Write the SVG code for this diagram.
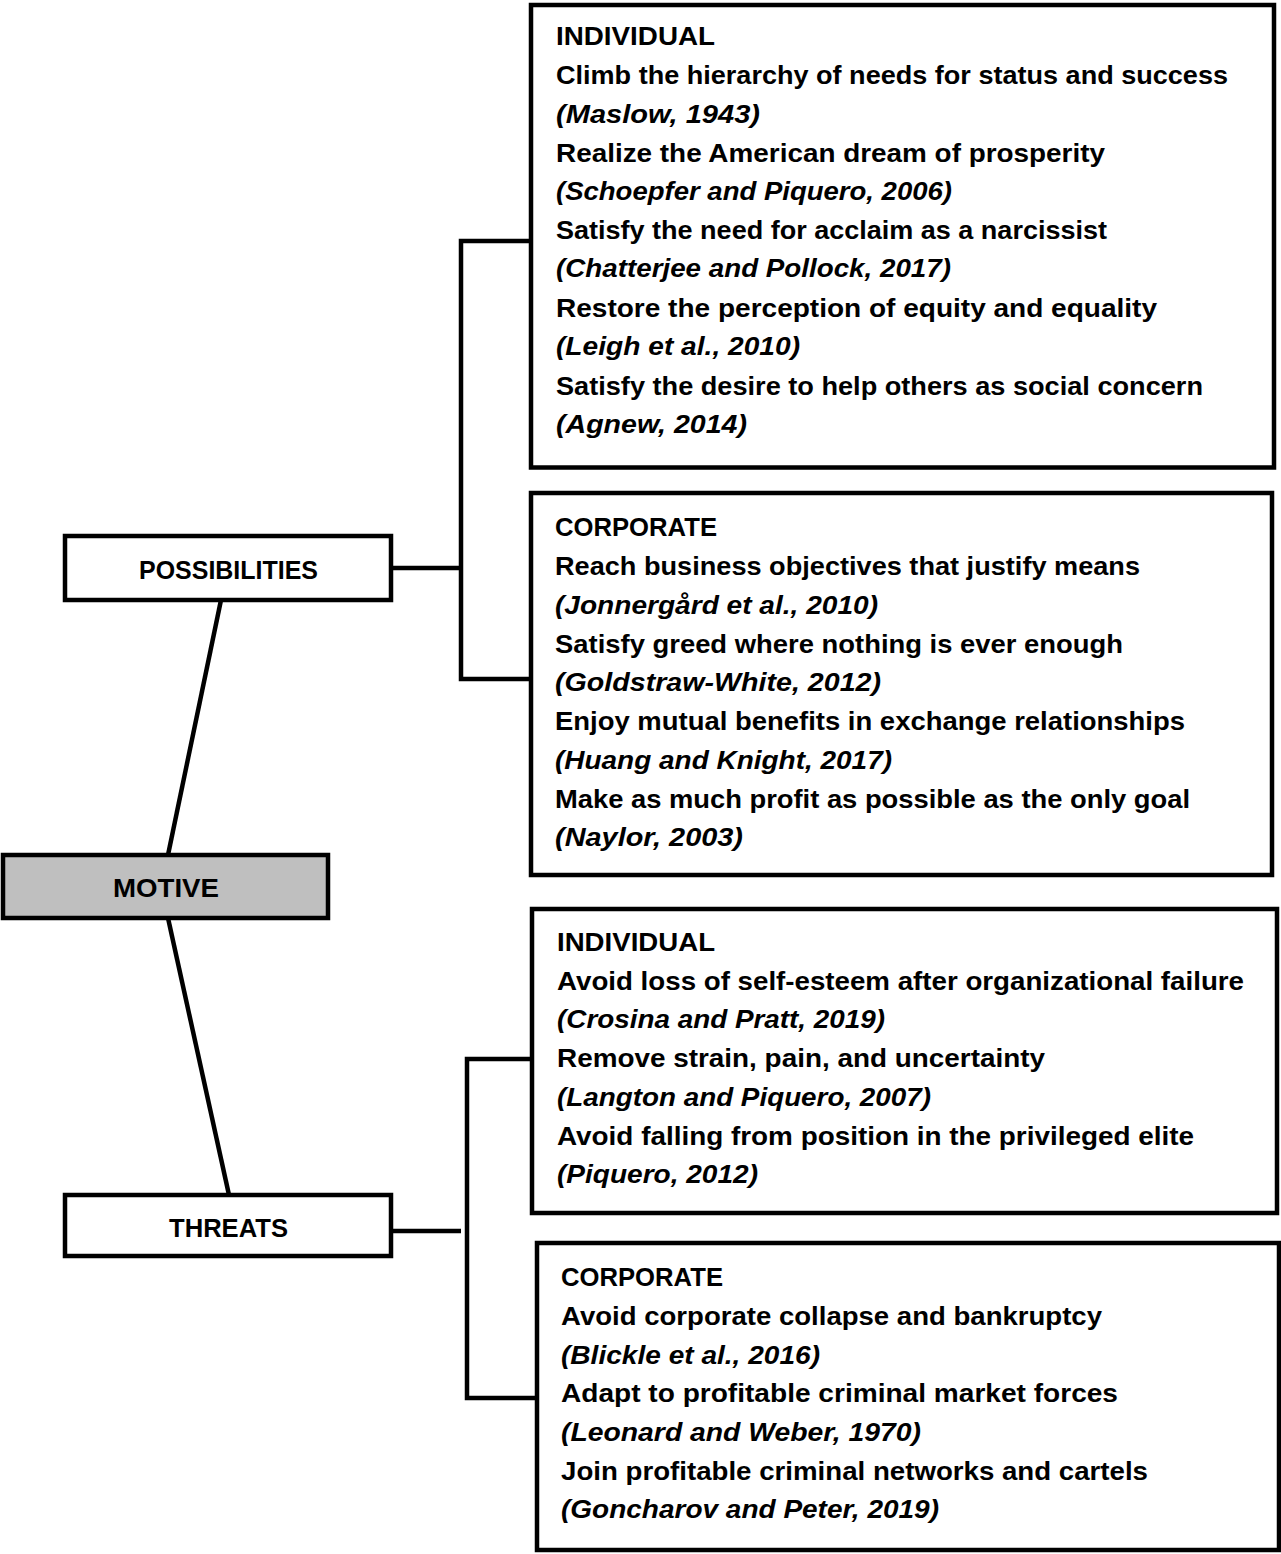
<svg xmlns="http://www.w3.org/2000/svg" width="1281" height="1554" viewBox="0 0 1281 1554">
<style>
.box{fill:#ffffff;stroke:#000000;stroke-width:4.5}
.grey{fill:#bfbfbf}
.ln{fill:none;stroke:#000000;stroke-width:4.5;stroke-linecap:butt}
text{font-family:"Liberation Sans",Arial,sans-serif;font-weight:bold;font-size:26px;fill:#000000}
.i{font-style:italic}
.c{text-anchor:middle}
</style>
<rect width="1281" height="1554" fill="#ffffff"/>
<g id="connectors">
<line class="ln" x1="221" y1="600" x2="168" y2="855"/>
<line class="ln" x1="168" y1="918" x2="229" y2="1195"/>
<line class="ln" x1="391" y1="568" x2="461" y2="568"/>
<path class="ln" d="M531,241 H461 V679 H531"/>
<line class="ln" x1="391" y1="1231" x2="461" y2="1231"/>
<path class="ln" d="M532,1059 H467 V1398 H537"/>
</g>
<g id="motive">
<rect class="box grey" x="3" y="855" width="325" height="63"/>
<text class="c" x="166" y="897" textLength="106" lengthAdjust="spacingAndGlyphs">MOTIVE</text>
</g>
<g id="possibilities">
<rect class="box" x="65" y="536" width="326" height="64"/>
<text class="c" x="228.5" y="579" textLength="179" lengthAdjust="spacingAndGlyphs">POSSIBILITIES</text>
</g>
<g id="threats">
<rect class="box" x="65" y="1195" width="326" height="61"/>
<text class="c" x="228.5" y="1237" textLength="119" lengthAdjust="spacingAndGlyphs">THREATS</text>
</g>
<g id="possibilities-individual">
<rect class="box" x="531" y="5" width="743" height="462.5"/>
<text x="556" y="45" textLength="159" lengthAdjust="spacingAndGlyphs">INDIVIDUAL</text>
<text x="556" y="84" textLength="672" lengthAdjust="spacingAndGlyphs">Climb the hierarchy of needs for status and success</text>
<text class="i" x="556" y="123" textLength="204" lengthAdjust="spacingAndGlyphs">(Maslow, 1943)</text>
<text x="556" y="162" textLength="549" lengthAdjust="spacingAndGlyphs">Realize the American dream of prosperity</text>
<text class="i" x="556" y="200" textLength="396" lengthAdjust="spacingAndGlyphs">(Schoepfer and Piquero, 2006)</text>
<text x="556" y="239" textLength="551" lengthAdjust="spacingAndGlyphs">Satisfy the need for acclaim as a narcissist</text>
<text class="i" x="556" y="277" textLength="395" lengthAdjust="spacingAndGlyphs">(Chatterjee and Pollock, 2017)</text>
<text x="556" y="317" textLength="601" lengthAdjust="spacingAndGlyphs">Restore the perception of equity and equality</text>
<text class="i" x="556" y="355" textLength="244" lengthAdjust="spacingAndGlyphs">(Leigh et al., 2010)</text>
<text x="556" y="395" textLength="647" lengthAdjust="spacingAndGlyphs">Satisfy the desire to help others as social concern</text>
<text class="i" x="556" y="433" textLength="191" lengthAdjust="spacingAndGlyphs">(Agnew, 2014)</text>
</g>
<g id="possibilities-corporate">
<rect class="box" x="531" y="493" width="741" height="382"/>
<text x="555" y="536" textLength="162" lengthAdjust="spacingAndGlyphs">CORPORATE</text>
<text x="555" y="575" textLength="585" lengthAdjust="spacingAndGlyphs">Reach business objectives that justify means</text>
<text class="i" x="555" y="614" textLength="323" lengthAdjust="spacingAndGlyphs">(Jonnergård et al., 2010)</text>
<text x="555" y="653" textLength="568" lengthAdjust="spacingAndGlyphs">Satisfy greed where nothing is ever enough</text>
<text class="i" x="555" y="691" textLength="326" lengthAdjust="spacingAndGlyphs">(Goldstraw-White, 2012)</text>
<text x="555" y="730" textLength="630" lengthAdjust="spacingAndGlyphs">Enjoy mutual benefits in exchange relationships</text>
<text class="i" x="555" y="769" textLength="337" lengthAdjust="spacingAndGlyphs">(Huang and Knight, 2017)</text>
<text x="555" y="808" textLength="635" lengthAdjust="spacingAndGlyphs">Make as much profit as possible as the only goal</text>
<text class="i" x="555" y="846" textLength="188" lengthAdjust="spacingAndGlyphs">(Naylor, 2003)</text>
</g>
<g id="threats-individual">
<rect class="box" x="532" y="909" width="745" height="304"/>
<text x="557" y="951" textLength="158" lengthAdjust="spacingAndGlyphs">INDIVIDUAL</text>
<text x="557" y="990" textLength="687" lengthAdjust="spacingAndGlyphs">Avoid loss of self-esteem after organizational failure</text>
<text class="i" x="557" y="1028" textLength="328" lengthAdjust="spacingAndGlyphs">(Crosina and Pratt, 2019)</text>
<text x="557" y="1067" textLength="488" lengthAdjust="spacingAndGlyphs">Remove strain, pain, and uncertainty</text>
<text class="i" x="557" y="1106" textLength="374" lengthAdjust="spacingAndGlyphs">(Langton and Piquero, 2007)</text>
<text x="557" y="1145" textLength="637" lengthAdjust="spacingAndGlyphs">Avoid falling from position in the privileged elite</text>
<text class="i" x="557" y="1183" textLength="201" lengthAdjust="spacingAndGlyphs">(Piquero, 2012)</text>
</g>
<g id="threats-corporate">
<rect class="box" x="537" y="1243" width="742" height="307"/>
<text x="561" y="1286" textLength="162" lengthAdjust="spacingAndGlyphs">CORPORATE</text>
<text x="561" y="1325" textLength="541" lengthAdjust="spacingAndGlyphs">Avoid corporate collapse and bankruptcy</text>
<text class="i" x="561" y="1364" textLength="259" lengthAdjust="spacingAndGlyphs">(Blickle et al., 2016)</text>
<text x="561" y="1402" textLength="557" lengthAdjust="spacingAndGlyphs">Adapt to profitable criminal market forces</text>
<text class="i" x="561" y="1441" textLength="360" lengthAdjust="spacingAndGlyphs">(Leonard and Weber, 1970)</text>
<text x="561" y="1480" textLength="587" lengthAdjust="spacingAndGlyphs">Join profitable criminal networks and cartels</text>
<text class="i" x="561" y="1518" textLength="378" lengthAdjust="spacingAndGlyphs">(Goncharov and Peter, 2019)</text>
</g>
</svg>
